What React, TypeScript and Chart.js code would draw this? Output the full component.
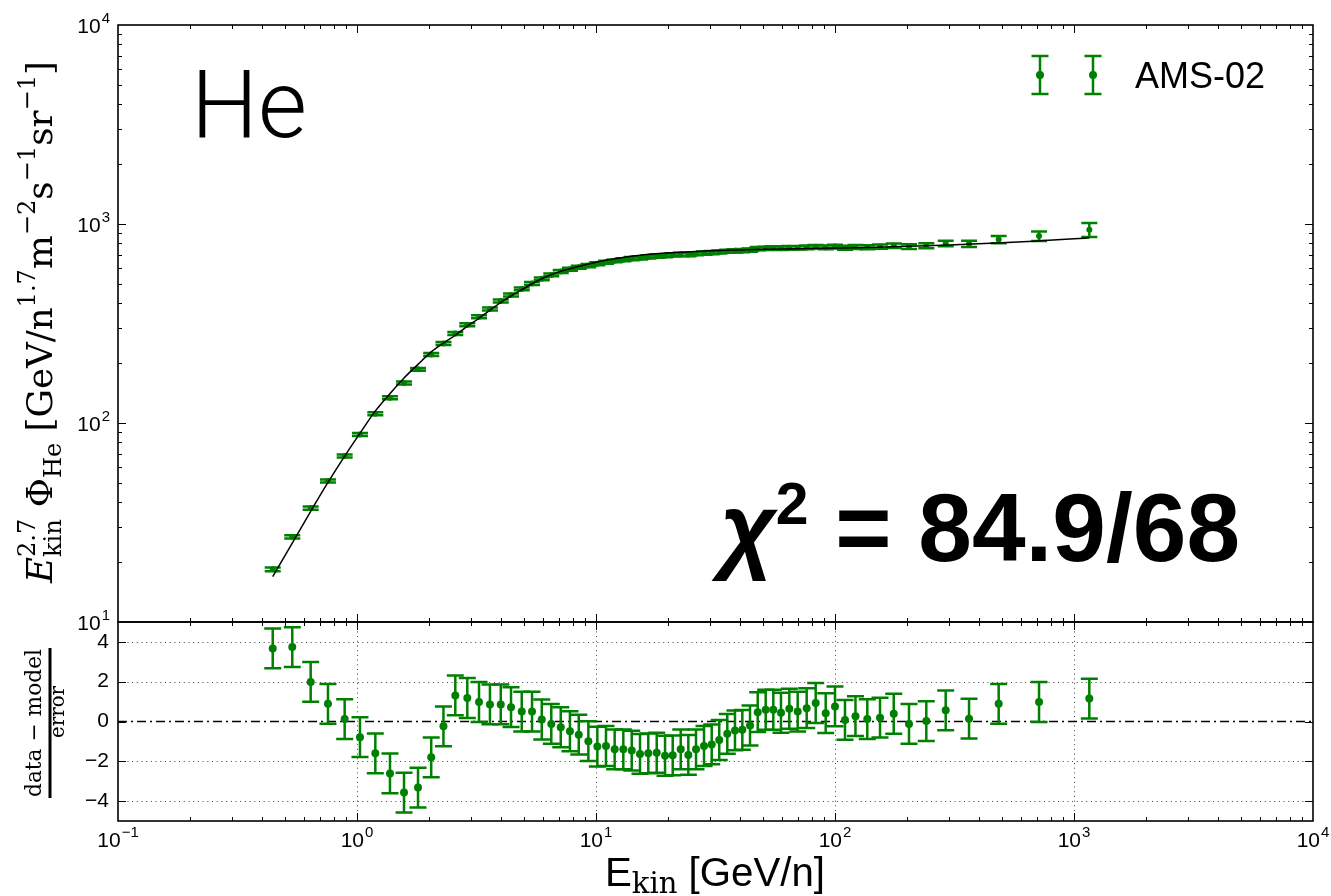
import React, { useEffect, useRef } from "react";
import { Chart, registerables } from "chart.js";

Chart.register(...registerables);

// ---------------- data ----------------
const energies = [
  0.444, 0.536, 0.64, 0.756, 0.888, 1.029, 1.193, 1.374, 1.573, 1.8,
  2.044, 2.3, 2.578, 2.894, 3.24, 3.6, 3.995, 4.41, 4.89, 5.4,
  5.93, 6.5, 7.12, 7.78, 8.47, 9.29, 10.13, 11.01, 11.97, 13.01,
  14.11, 15.28, 16.55, 17.95, 19.45, 20.94, 22.62, 24.34, 26.21, 28.31,
  30.49, 32.78, 35.43, 38.15, 40.95, 44.1, 47.5, 51.29, 55.19, 59.43,
  64.39, 69.81, 76.13, 83.03, 91.43, 100.0, 110.1, 121.8, 136.5, 154.3,
  176.1, 204, 241, 290.5, 363.8, 484, 714, 1159,
];

const fluxE27 = [
  18.4, 26.8, 37.4, 51.1, 68.3, 87.5, 111.4, 134, 159, 186,
  221, 251, 282, 312, 342, 374, 410, 440, 472, 502,
  530, 555, 577, 592, 606, 618, 631, 643, 653, 661,
  670, 675, 683, 689, 693, 698, 703, 702, 709, 714,
  718, 723, 729, 733, 735, 740, 752, 755, 757, 756,
  760, 759, 763, 769, 763, 770, 760, 766, 765, 770,
  777, 770, 778, 799, 796, 835, 870, 936,
];

const fluxErr = [
  0.4, 0.5, 0.7, 0.9, 1.2, 1.5, 1.9, 2.3, 2.8, 3.2,
  3.7, 4.2, 4.8, 5.3, 5.8, 6.4, 7.0, 7.5, 8.0, 8.5,
  9.0, 9.4, 9.8, 10, 10, 11, 11, 11, 11, 12,
  12, 12, 12, 12, 12, 12, 13, 13, 13, 13,
  13, 13, 13, 14, 14, 14, 14, 14, 15, 15,
  15, 15, 16, 16, 16, 17, 17, 18, 18, 19,
  20, 21, 23, 26, 29, 35, 48, 75,
];

const residuals = [
  3.67, 3.74, 1.99, 0.89, 0.12, -0.79, -1.6, -2.61, -3.57, -3.32,
  -1.8, -0.24, 1.31, 1.18, 0.98, 0.86, 0.86, 0.72, 0.5, 0.5,
  0.1, -0.12, -0.29, -0.49, -0.66, -0.99, -1.26, -1.23, -1.4, -1.4,
  -1.46, -1.63, -1.6, -1.57, -1.72, -1.7, -1.4, -1.68, -1.4, -1.23,
  -1.15, -0.93, -0.62, -0.45, -0.42, -0.2, 0.47, 0.59, 0.59, 0.44,
  0.64, 0.5, 0.67, 0.93, 0.42, 0.76, 0.08, 0.27, 0.12, 0.19,
  0.39, -0.12, 0.02, 0.56, 0.14, 0.89, 0.98, 1.15,
];

const residualErr = [
  1, 1, 1, 1, 1, 1, 1, 1, 1, 1,
  1, 1, 1, 1, 1, 1, 1, 1, 1, 1,
  1, 1, 1, 1, 1, 1, 1, 1, 1, 1,
  1, 1, 1, 1, 1, 1, 1, 1, 1, 1,
  1, 1, 1, 1, 1, 1, 1, 1, 1, 1,
  1, 1, 1, 1, 1, 1, 1, 1, 1, 1,
  1, 1, 1, 1, 1, 1, 1, 1,
];

const modelEnergy = [
  0.444, 0.536, 0.64, 0.756, 0.888, 1.03, 1.19, 1.37, 1.57, 1.8,
  2.04, 2.3, 2.58, 2.89, 3.24, 3.6, 4.0, 4.9, 5.9, 7.1,
  8.5, 10, 12, 15, 20, 25, 30, 40, 50, 70,
  100, 150, 200, 300, 500, 700, 1000, 1160,
];

const modelFlux = [
  16.9, 24.9, 36.0, 50.3, 68.2, 89.0, 114.4, 140, 168, 197,
  227, 252, 276, 306, 336, 369, 404, 468, 529, 578,
  613, 643, 669, 695, 716, 726, 733, 741, 746, 751,
  757, 765, 773, 785, 805, 822, 842, 852,
];

// tick values and labels ("10" + superscript exponent)
const xTickValues = [0.1, 1, 10, 100, 1000, 10000];
const xTickExponents = ["\u22121", "0", "1", "2", "3", "4"];
const yTopTickValues = [10, 100, 1000, 10000];
const yTopTickExponents = ["1", "2", "3", "4"];
const yBotTickValues = [-4, -2, 0, 2, 4];
const yBotTickLabels = ["\u22124", "\u22122", "0", "2", "4"];
const zeroLineX = [0.1, 10000];
const zeroLineY = [0, 0];
const seriesName = "AMS-02";

// ---------------- styling ----------------
const GREEN = "#008000";
const W = 1331;
const H = 896;
const TICK_FAMILY = "'Liberation Sans'";
const TICK_MAIN = `21px ${TICK_FAMILY}`;
const TICK_SUP = `15px ${TICK_FAMILY}`;

function logMinors(min: number, max: number): number[] {
  const out: number[] = [];
  for (let d = min; d < max * 0.999; d *= 10) {
    for (let k = 2; k <= 9; k++) out.push(d * k);
  }
  return out;
}

type Run = { t: string; font: string; dy: number; stack?: boolean };

function drawRuns(
  ctx: CanvasRenderingContext2D,
  runs: Run[],
  cx: number,
  cy: number,
  rot: number,
  targetWidth?: number
) {
  ctx.save();
  let x = 0;
  let prevStart = 0;
  let prevEnd = 0;
  const placed = runs.map((r) => {
    ctx.font = r.font;
    const w = ctx.measureText(r.t).width;
    const sx = r.stack ? prevStart : x;
    const end = sx + w;
    x = r.stack ? Math.max(prevEnd, end) : end;
    prevStart = sx;
    prevEnd = end;
    return { r, sx };
  });
  const total = x;
  const k = targetWidth ? targetWidth / total : 1;
  ctx.translate(cx, cy);
  ctx.rotate(rot);
  ctx.scale(k, k);
  ctx.fillStyle = "#000";
  ctx.textBaseline = "alphabetic";
  ctx.textAlign = "left";
  for (const p of placed) {
    ctx.font = p.r.font;
    ctx.fillText(p.r.t, p.sx - total / 2, p.r.dy);
  }
  ctx.restore();
}

function powerLabelWidth(ctx: CanvasRenderingContext2D, exp: string) {
  ctx.font = TICK_MAIN;
  const a = ctx.measureText("10").width;
  ctx.font = TICK_SUP;
  const b = ctx.measureText(exp).width;
  return { a, b, w: a + 1 + b };
}

function drawPowerLabel(ctx: CanvasRenderingContext2D, exp: string, left: number, baseline: number) {
  const { a } = powerLabelWidth(ctx, exp);
  ctx.font = TICK_MAIN;
  ctx.fillText("10", left, baseline);
  ctx.font = TICK_SUP;
  ctx.fillText(exp, left + a + 1, baseline - 10);
}

function drawErrorBar(ctx: CanvasRenderingContext2D, px: number, y1: number, y2: number, half: number) {
  ctx.beginPath();
  ctx.moveTo(px, y1);
  ctx.lineTo(px, y2);
  ctx.moveTo(px - half, y1);
  ctx.lineTo(px + half, y1);
  ctx.moveTo(px - half, y2);
  ctx.lineTo(px + half, y2);
  ctx.stroke();
}

function errorBarPlugin(id: string, dsIndex: number, xs: number[], ys: number[], errs: number[], half: number, lw: number) {
  return {
    id,
    beforeDatasetDraw(chart: any, args: any) {
      if (args.index !== dsIndex) return;
      const { ctx, scales, chartArea: a } = chart;
      ctx.save();
      ctx.beginPath();
      ctx.rect(a.left, a.top, a.right - a.left, a.bottom - a.top);
      ctx.clip();
      ctx.strokeStyle = GREEN;
      ctx.lineWidth = lw;
      for (let i = 0; i < xs.length; i++) {
        const px = scales.x.getPixelForValue(xs[i]);
        const y1 = scales.y.getPixelForValue(ys[i] - errs[i]);
        const y2 = scales.y.getPixelForValue(ys[i] + errs[i]);
        drawErrorBar(ctx, px, y1, y2, half);
      }
      ctx.restore();
    },
  };
}

function frameTicksPlugin(id: string, cfg: { xMajor: number[]; xMinor: number[]; yMajor: number[]; yMinor: number[] }) {
  return {
    id,
    afterDatasetsDraw(chart: any) {
      const { ctx, chartArea: a, scales } = chart;
      ctx.save();
      ctx.strokeStyle = "#000";
      ctx.lineWidth = 1;
      ctx.beginPath();
      const xt = (v: number, len: number) => {
        const px = Math.round(scales.x.getPixelForValue(v)) + 0.5;
        ctx.moveTo(px, a.top);
        ctx.lineTo(px, a.top + len);
        ctx.moveTo(px, a.bottom);
        ctx.lineTo(px, a.bottom - len);
      };
      const yt = (v: number, len: number) => {
        const py = Math.round(scales.y.getPixelForValue(v)) + 0.5;
        ctx.moveTo(a.left, py);
        ctx.lineTo(a.left + len, py);
        ctx.moveTo(a.right, py);
        ctx.lineTo(a.right - len, py);
      };
      cfg.xMajor.forEach((v) => xt(v, 8));
      cfg.xMinor.forEach((v) => xt(v, 4));
      cfg.yMajor.forEach((v) => yt(v, 8));
      cfg.yMinor.forEach((v) => yt(v, 4));
      ctx.stroke();
      ctx.lineWidth = 1.6;
      ctx.strokeRect(a.left, a.top, a.right - a.left, a.bottom - a.top);
      ctx.restore();
    },
  };
}

// log-axis tick labels with real superscript exponents, positioned by the scales
const topYLabelsPlugin = {
  id: "topYLabels",
  afterDraw(chart: any) {
    const { ctx, chartArea: a, scales } = chart;
    ctx.save();
    ctx.fillStyle = "#000";
    ctx.textAlign = "left";
    ctx.textBaseline = "alphabetic";
    yTopTickValues.forEach((v, i) => {
      const py = scales.y.getPixelForValue(v);
      const exp = yTopTickExponents[i];
      const { w } = powerLabelWidth(ctx, exp);
      drawPowerLabel(ctx, exp, a.left - 8 - w, py + 8);
    });
    ctx.restore();
  },
};

const bottomXLabelsPlugin = {
  id: "bottomXLabels",
  afterDraw(chart: any) {
    const { ctx, chartArea: a, scales } = chart;
    ctx.save();
    ctx.fillStyle = "#000";
    ctx.textAlign = "left";
    ctx.textBaseline = "alphabetic";
    xTickValues.forEach((v, i) => {
      const px = scales.x.getPixelForValue(v);
      const exp = xTickExponents[i];
      const { w } = powerLabelWidth(ctx, exp);
      drawPowerLabel(ctx, exp, px - w / 2, a.bottom + 26);
    });
    ctx.restore();
  },
};

const gridPlugin = {
  id: "dottedGrid",
  beforeDatasetsDraw(chart: any) {
    const { ctx, chartArea: a, scales } = chart;
    ctx.save();
    ctx.strokeStyle = "rgba(0,0,0,0.75)";
    ctx.lineWidth = 1;
    ctx.setLineDash([1, 3.7]);
    ctx.beginPath();
    [1, 10, 100, 1000].forEach((v) => {
      const px = Math.round(scales.x.getPixelForValue(v)) + 0.5;
      ctx.moveTo(px, a.top);
      ctx.lineTo(px, a.bottom);
    });
    [-4, -2, 2, 4].forEach((v) => {
      const py = Math.round(scales.y.getPixelForValue(v)) + 0.5;
      ctx.moveTo(a.left, py);
      ctx.lineTo(a.right, py);
    });
    ctx.stroke();
    ctx.restore();
  },
};

const SERIF = "DejaVu Serif";

const topAnnotations = {
  id: "topAnnotations",
  afterDraw(chart: any) {
    const ctx: CanvasRenderingContext2D = chart.ctx;
    ctx.save();
    // "He"
    drawRuns(ctx, [{ t: "He", font: "300 96px Roboto", dy: 0 }], 249, 137, 0, 116);
    // chi^2
    drawRuns(
      ctx,
      [
        { t: "\u03C7", font: "italic bold 95px 'Liberation Sans'", dy: 0 },
        { t: "2", font: "bold 58px 'Liberation Sans'", dy: -36 },
        { t: " = 84.9/68", font: "bold 95px 'Liberation Sans'", dy: 0 },
      ],
      980,
      561,
      0,
      520
    );
    // legend
    ctx.strokeStyle = GREEN;
    ctx.fillStyle = GREEN;
    ctx.lineWidth = 2.5;
    [1040, 1093].forEach((lx) => {
      drawErrorBar(ctx, lx, 56, 94, 8.5);
      ctx.beginPath();
      ctx.arc(lx, 75, 4, 0, Math.PI * 2);
      ctx.fill();
    });
    ctx.fillStyle = "#000";
    ctx.font = "36px 'Liberation Sans'";
    ctx.textBaseline = "alphabetic";
    ctx.textAlign = "left";
    ctx.fillText(seriesName, 1135, 88);
    // y-axis title
    const big = `28px '${SERIF}'`;
    const bigI = `italic 28px '${SERIF}'`;
    const sm = `19px '${SERIF}'`;
    drawRuns(
      ctx,
      [
        { t: "E", font: bigI, dy: 0 },
        { t: "2.7", font: sm, dy: -13 },
        { t: "kin", font: sm, dy: 7, stack: true },
        { t: " \u03A6", font: big, dy: 0 },
        { t: "He", font: sm, dy: 7 },
        { t: " [GeV/n", font: big, dy: 0 },
        { t: "1.7", font: sm, dy: -13 },
        { t: "m", font: big, dy: 0 },
        { t: "\u22122", font: sm, dy: -13 },
        { t: "s", font: big, dy: 0 },
        { t: "\u22121", font: sm, dy: -13 },
        { t: "sr", font: big, dy: 0 },
        { t: "\u22121", font: sm, dy: -13 },
        { t: "]", font: big, dy: 0 },
      ],
      52,
      322,
      -Math.PI / 2,
      522
    );
    ctx.restore();
  },
};

const bottomAnnotations = {
  id: "bottomAnnotations",
  afterDraw(chart: any) {
    const ctx: CanvasRenderingContext2D = chart.ctx;
    ctx.save();
    // fraction y-title
    ctx.save();
    ctx.translate(50, 723);
    ctx.rotate(-Math.PI / 2);
    ctx.fillStyle = "#000";
    ctx.fillRect(-75, -1.5, 150, 3);
    ctx.restore();
    drawRuns(ctx, [{ t: "data \u2212 model", font: `22px '${SERIF}'`, dy: 0 }], 41, 723, -Math.PI / 2, 148);
    drawRuns(ctx, [{ t: "error", font: `22px '${SERIF}'`, dy: 0 }], 64, 712, -Math.PI / 2, 52);
    // x title
    drawRuns(
      ctx,
      [
        { t: "E", font: "36px 'Liberation Sans'", dy: 0 },
        { t: "kin", font: `26px '${SERIF}'`, dy: 6 },
        { t: " [GeV/n]", font: "36px 'Liberation Sans'", dy: 0 },
      ],
      715,
      886,
      0,
      220
    );
    ctx.restore();
  },
};

export default function App() {
  const topRef = useRef<HTMLCanvasElement | null>(null);
  const botRef = useRef<HTMLCanvasElement | null>(null);

  useEffect(() => {
    document.body.style.margin = "0";
    const xMinor = logMinors(0.1, 10000);
    const yTopMinor = logMinors(10, 10000);

    const top = new Chart(topRef.current as HTMLCanvasElement, {
      type: "scatter",
      data: {
        datasets: [
          {
            type: "line",
            label: "model",
            data: modelEnergy.map((x, i) => ({ x, y: modelFlux[i] })),
            borderColor: "#000",
            borderWidth: 1.5,
            pointRadius: 0,
            fill: false,
            cubicInterpolationMode: "monotone",
            order: 0,
          } as any,
          {
            type: "scatter",
            label: seriesName,
            data: energies.map((x, i) => ({ x, y: fluxE27[i] })),
            pointRadius: 3,
            pointBackgroundColor: GREEN,
            pointBorderColor: GREEN,
            pointBorderWidth: 0,
            order: 1,
          } as any,
        ],
      },
      options: {
        responsive: false,
        animation: false,
        devicePixelRatio: 1,
        layout: { padding: { left: 0, right: 18, top: 25, bottom: H - 622 } },
        plugins: { legend: { display: false }, tooltip: { enabled: false } },
        scales: {
          x: {
            type: "logarithmic",
            min: 0.1,
            max: 10000,
            ticks: { display: false },
            grid: { display: false, drawTicks: false },
            border: { display: false },
            afterFit: (s: any) => {
              s.height = 0;
            },
          },
          y: {
            type: "logarithmic",
            min: 10,
            max: 10000,
            afterBuildTicks: (s: any) => {
              s.ticks = yTopTickValues.map((v) => ({ value: v }));
            },
            ticks: { display: false },
            grid: { display: false, drawTicks: false },
            border: { display: false },
            afterFit: (s: any) => {
              s.width = 118;
            },
          },
        },
      } as any,
      plugins: [
        errorBarPlugin("topErr", 1, energies, fluxE27, fluxErr, 8, 2.5),
        frameTicksPlugin("topFrame", {
          xMajor: [1, 10, 100, 1000],
          xMinor,
          yMajor: [100, 1000],
          yMinor: yTopMinor,
        }),
        topYLabelsPlugin,
        topAnnotations,
      ],
    });

    const bottom = new Chart(botRef.current as HTMLCanvasElement, {
      type: "scatter",
      data: {
        datasets: [
          {
            type: "scatter",
            label: seriesName,
            data: energies.map((x, i) => ({ x, y: residuals[i] })),
            pointRadius: 4,
            pointBackgroundColor: GREEN,
            pointBorderColor: GREEN,
            pointBorderWidth: 0,
            order: 0,
          } as any,
          {
            type: "line",
            label: "zero",
            data: zeroLineX.map((x, i) => ({ x, y: zeroLineY[i] })),
            borderColor: "#000",
            borderWidth: 1.3,
            borderDash: [9, 4, 2, 4],
            pointRadius: 0,
            fill: false,
            order: 1,
          } as any,
        ],
      },
      options: {
        responsive: false,
        animation: false,
        devicePixelRatio: 1,
        layout: { padding: { left: 0, right: 18, top: 622, bottom: 0 } },
        plugins: { legend: { display: false }, tooltip: { enabled: false } },
        scales: {
          x: {
            type: "logarithmic",
            min: 0.1,
            max: 10000,
            afterBuildTicks: (s: any) => {
              s.ticks = xTickValues.map((v) => ({ value: v }));
            },
            ticks: { display: false },
            grid: { display: false, drawTicks: false },
            border: { display: false },
            afterFit: (s: any) => {
              s.height = H - 821;
            },
          },
          y: {
            type: "linear",
            min: -5,
            max: 5,
            afterBuildTicks: (s: any) => {
              s.ticks = yBotTickValues.map((v) => ({ value: v }));
            },
            ticks: {
              callback: (_v: any, i: number) => yBotTickLabels[i],
              font: { family: "Liberation Sans", size: 21 },
              color: "#000",
              padding: 9,
              autoSkip: false,
              maxRotation: 0,
            },
            grid: { display: false, drawTicks: false },
            border: { display: false },
            afterFit: (s: any) => {
              s.width = 118;
            },
          },
        },
      } as any,
      plugins: [
        gridPlugin,
        errorBarPlugin("botErr", 0, energies, residuals, residualErr, 8.5, 2.5),
        frameTicksPlugin("botFrame", {
          xMajor: [1, 10, 100, 1000],
          xMinor,
          yMajor: [-4, -2, 0, 2, 4],
          yMinor: [],
        }),
        bottomXLabelsPlugin,
        bottomAnnotations,
      ],
    });

    return () => {
      top.destroy();
      bottom.destroy();
    };
  }, []);

  const canvasStyle: React.CSSProperties = {
    position: "absolute",
    left: 0,
    top: 0,
    width: W,
    height: H,
  };

  return (
    <div style={{ position: "relative", width: W, height: H, background: "#fff" }}>
      <canvas ref={topRef} width={W} height={H} style={canvasStyle} />
      <canvas ref={botRef} width={W} height={H} style={canvasStyle} />
    </div>
  );
}
